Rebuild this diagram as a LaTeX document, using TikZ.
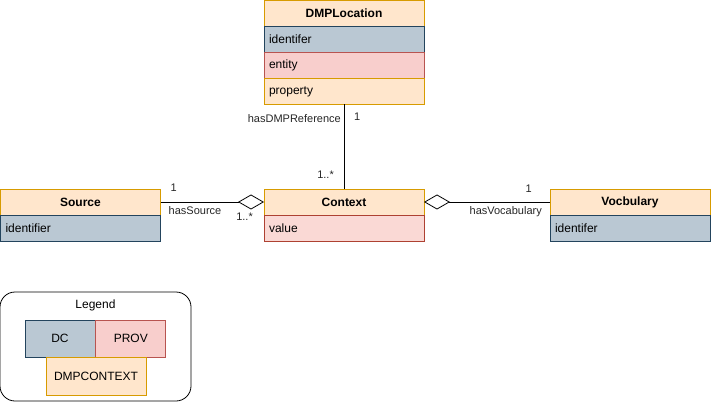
\documentclass[tikz,border=0pt]{standalone}
\usepackage{fontspec}
\setmainfont{Liberation Sans}
\usepackage{tikz}
\usetikzlibrary{shapes.geometric, arrows.meta, positioning}
\definecolor{ctxfill}{HTML}{FFE6CC}
\definecolor{ctxline}{HTML}{D79B00}
\definecolor{dcfill}{HTML}{BAC8D3}
\definecolor{dcline}{HTML}{23445D}
\definecolor{provfill}{HTML}{F8CECC}
\definecolor{provline}{HTML}{B85450}
\definecolor{valfill}{HTML}{FAD9D5}
\definecolor{valline}{HTML}{AE4132}
\tikzset{
    header/.style={rectangle, draw=ctxline, fill=ctxfill, minimum width=160pt, minimum height=26pt, inner sep=0pt, outer sep=0pt, line width=0.8pt, font=\fontsize{12}{14}\selectfont\bfseries},
    row/.style={rectangle, minimum width=160pt, text width=150pt, minimum height=26pt, inner xsep=5pt, inner ysep=0pt, outer sep=0pt, align=left, line width=0.8pt, font=\fontsize{12}{14}\selectfont},
    dcrow/.style={row, draw=dcline, fill=dcfill},
    provrow/.style={row, draw=provline, fill=provfill},
    valrow/.style={row, draw=valline, fill=valfill},
    ctxrow/.style={row, draw=ctxline, fill=ctxfill},
    lbl/.style={inner sep=0pt, text=black!85, font=\fontsize{11}{13}\selectfont},
    assoc/.style={-{Diamond[open, length=26pt, width=15pt]}, line width=0.8pt},
    link/.style={line width=0.8pt},
    legendbox/.style={rectangle, draw, rounded corners=15pt, minimum width=191pt, minimum height=109pt, line width=0.8pt},
    keybox/.style={rectangle, inner sep=0pt, line width=0.8pt, font=\fontsize{12}{14}\selectfont}
}

\begin{document}
\begin{tikzpicture}[x=1pt, y=-1pt]
    \useasboundingbox (0,0) rectangle (711,403);

    % DMPLocation
    \node [header] (dmphead) at (344,13.5) {DMPLocation};
    \node [dcrow, below=0pt of dmphead] (dmpid) {identifer};
    \node [provrow, below=0pt of dmpid] (dmpent) {entity};
    \node [ctxrow, below=0pt of dmpent] (dmpprop) {property};

    % Context
    \node [header] (ctxhead) at (344,202) {Context};
    \node [valrow, below=0pt of ctxhead] (ctxval) {value};

    % Source
    \node [header] (srchead) at (80.5,202) {Source};
    \node [dcrow, below=0pt of srchead] (srcid) {identifier};

    % Vocbulary
    \node [header] (vochead) at (630,202) {Vocbulary};
    \node [dcrow, below=0pt of vochead] (vocid) {identifer};

    % associations
    \draw [link] (dmpprop) -- (ctxhead);
    \node [lbl, below left=10pt and 3pt of dmpprop.south] {hasDMPReference};
    \node [lbl, below right=8pt and 10pt of dmpprop.south] {1};
    \node [lbl, above left=10pt and 10pt of ctxhead.north] {1..*};

    \draw [assoc] (srchead) -- (ctxhead);
    \node [lbl, above right=10pt and 10pt of srchead.east] {1};
    \node [lbl, below right=4pt and 8pt of srchead.east] {hasSource};
    \node [lbl, below left=11pt and 11pt of ctxhead.west] {1..*};

    \draw [assoc] (vochead) -- (ctxhead);
    \node [lbl, above left=9pt and 18pt of vochead.west] {1};
    \node [lbl, below left=4pt and 8pt of vochead.west] {hasVocabulary};

    % legend
    \node [legendbox] (legend) at (95.5,346.5) {};
    \node [keybox, below=8pt of legend.north] (legtitle) {Legend};
    \node [keybox, draw=dcline, fill=dcfill, minimum width=70pt, minimum height=37pt] (keydc) at (60,338.5) {DC};
    \node [keybox, draw=provline, fill=provfill, minimum width=70pt, minimum height=37pt, right=0pt of keydc] (keyprov) {PROV};
    \node [keybox, draw=ctxline, fill=ctxfill, minimum width=100pt, minimum height=38pt] (keyctx) at (96,376) {DMPCONTEXT};
\end{tikzpicture}
\end{document}
